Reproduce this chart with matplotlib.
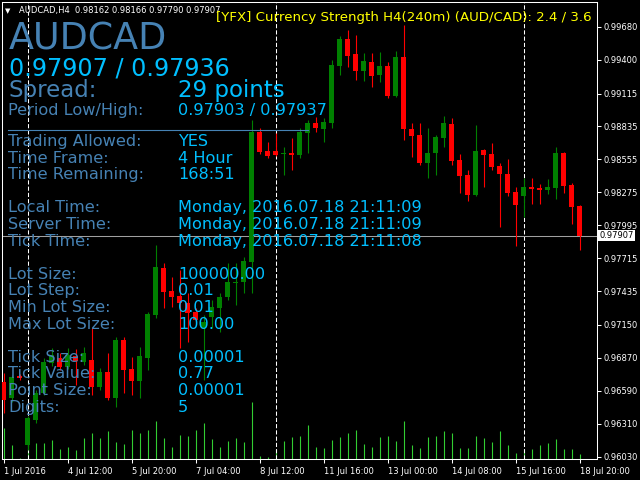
import matplotlib.pyplot as plt
from matplotlib.lines import Line2D

opens = [0.96666, 0.96530, 0.96717, 0.96131, 0.96343, 0.96572, 0.96827, 0.96870, 0.96793, 0.96887,
         0.96836, 0.96853, 0.96623, 0.96751, 0.96530, 0.97022, 0.96776, 0.96674, 0.96870, 0.97235,
         0.97633, 0.97438, 0.97396, 0.97337, 0.97260, 0.97124, 0.97218, 0.97294, 0.97387, 0.97506,
         0.97515, 0.97685, 0.98788, 0.98627, 0.98627, 0.98602, 0.98610, 0.98593, 0.98780, 0.98865,
         0.98814, 0.98865, 0.99349, 0.99578, 0.99451, 0.99306, 0.99383, 0.99272, 0.99349, 0.99094,
         0.99425, 0.98814, 0.98763, 0.98525, 0.98610, 0.98737, 0.98856, 0.98551, 0.98423, 0.98253,
         0.98635, 0.98602, 0.98500, 0.98432, 0.98279, 0.98245, 0.98321, 0.98313, 0.98296, 0.98313,
         0.98610, 0.98338, 0.98162]
highs = [0.96742, 0.96725, 0.96734, 0.96377, 0.96598, 0.96870, 0.96954, 0.96912, 0.96954, 0.96946,
         0.96963, 0.97124, 0.96785, 0.96912, 0.97048, 0.97048, 0.96878, 0.96963, 0.97260, 0.97829,
         0.97676, 0.97557, 0.97617, 0.97421, 0.97294, 0.97235, 0.97362, 0.97421, 0.97676, 0.97676,
         0.97727, 0.98890, 0.98822, 0.98703, 0.98780, 0.98661, 0.98737, 0.98822, 0.98890, 0.98916,
         0.98907, 0.99400, 0.99603, 0.99654, 0.99612, 0.99459, 0.99459, 0.99468, 0.99383, 0.99476,
         0.99697, 0.98865, 0.98865, 0.98822, 0.98763, 0.98924, 0.98907, 0.98602, 0.98466, 0.98848,
         0.98644, 0.98695, 0.98525, 0.98559, 0.98321, 0.98398, 0.98398, 0.98347, 0.98389, 0.98661,
         0.98619, 0.98355, 0.98166]
lows = [0.96403, 0.96496, 0.96683, 0.96089, 0.96318, 0.96555, 0.96802, 0.96768, 0.96776, 0.96640,
        0.96810, 0.96555, 0.96598, 0.96513, 0.96454, 0.96572, 0.96555, 0.96530, 0.96768, 0.97209,
        0.97294, 0.97303, 0.96954, 0.97005, 0.97167, 0.96683, 0.97124, 0.97090, 0.97362, 0.97320,
        0.97421, 0.97421, 0.98602, 0.98568, 0.98585, 0.98423, 0.98466, 0.98568, 0.98610, 0.98788,
        0.98703, 0.98822, 0.99272, 0.99340, 0.99230, 0.99221, 0.99170, 0.99213, 0.99077, 0.99085,
        0.98720, 0.98576, 0.98508, 0.98398, 0.98423, 0.98661, 0.98508, 0.98270, 0.98203, 0.98245,
        0.98321, 0.98466, 0.97982, 0.98245, 0.97820, 0.98067, 0.98177, 0.98177, 0.98262, 0.98219,
        0.98270, 0.98007, 0.97790]
closes = [0.96513, 0.96708, 0.96700, 0.96360, 0.96572, 0.96836, 0.96895, 0.96793, 0.96895, 0.96844,
          0.96912, 0.96623, 0.96751, 0.96530, 0.97022, 0.96768, 0.96674, 0.96887, 0.97243, 0.97642,
          0.97430, 0.97387, 0.97337, 0.97252, 0.97192, 0.97175, 0.97303, 0.97387, 0.97515, 0.97515,
          0.97693, 0.98788, 0.98619, 0.98585, 0.98593, 0.98610, 0.98593, 0.98788, 0.98865, 0.98822,
          0.98873, 0.99357, 0.99578, 0.99434, 0.99306, 0.99391, 0.99264, 0.99349, 0.99094, 0.99425,
          0.98814, 0.98754, 0.98525, 0.98610, 0.98746, 0.98865, 0.98542, 0.98415, 0.98253, 0.98627,
          0.98593, 0.98491, 0.98432, 0.98270, 0.98169, 0.98321, 0.98304, 0.98296, 0.98321, 0.98610,
          0.98330, 0.98152, 0.97907]
# volume de ticks (relativo)
volume = [31, 14, 1, 16, 16, 16, 19, 10, 12, 9,
          21, 26, 21, 28, 17, 15, 29, 26, 29, 38,
          21, 12, 24, 23, 29, 36, 20, 12, 18, 21,
          17, 57, 3, 2, 9, 18, 22, 23, 34, 12,
          11, 19, 22, 26, 29, 15, 12, 22, 23, 18,
          38, 14, 11, 22, 23, 28, 26, 11, 11, 23,
          21, 17, 28, 14, 6, 9, 10, 14, 16, 20,
          10, 10, 5]

date_ticks = [0, 8, 16, 24, 32, 40, 48, 56, 64, 72]
date_labels = ["1 Jul 2016", "4 Jul 12:00", "5 Jul 20:00", "7 Jul 04:00", "8 Jul 12:00",
               "11 Jul 16:00", "13 Jul 00:00", "14 Jul 08:00", "15 Jul 16:00", "18 Jul 20:00"]
price_ticks = [0.99680, 0.99400, 0.99115, 0.98835, 0.98555, 0.98275, 0.97995,
               0.97715, 0.97435, 0.97150, 0.96870, 0.96590, 0.96310, 0.96030]
week_starts = [3, 34, 65]

bid, ask = 0.97907, 0.97936
spread_pts = 29
period_low, period_high = 0.97903, 0.97937
strength_aud, strength_cad = 2.4, 3.6

info_labels = ["Trading Allowed:", "Time Frame:", "Time Remaining:", "",
               "Local Time:", "Server Time:", "Tick Time:", "",
               "Lot Size:", "Lot Step:", "Min Lot Size:", "Max Lot Size:", "",
               "Tick Size:", "Tick Value:", "Point Size:", "Digits:"]
info_values = ["YES", "4 Hour", "168:51", "",
               "Monday, 2016.07.18 21:11:09", "Monday, 2016.07.18 21:11:09",
               "Monday, 2016.07.18 21:11:08", "",
               "100000.00", "0.01", "0.01", "100.00", "",
               "0.00001", "0.77", "0.00001", "5"]

# cores
COR_ROTULO = '#4682B4'
COR_VALOR = '#00BFFF'
COR_ALTA = '#008000'
COR_BAIXA = '#FF0000'
COR_VOL = '#32CD32'

W, H = 640, 480


def fx(px):
    return px / W


def fy(py):
    return 1 - py / H


fig = plt.figure(figsize=(6.4, 4.8), dpi=100, facecolor='black')
rect = [fx(2), fy(459), 595 / W, 457 / H]
xlim = (-0.19, -0.19 + 595 / 8)

# volumes atras das velas
ax_v = fig.add_axes(rect)
ax_v.set_xlim(xlim)
ax_v.set_ylim(0, max(volume) * 8.0)
ax_v.vlines(range(len(volume)), 0, volume, color=COR_VOL, linewidth=0.8)
ax_v.axis('off')

ax = fig.add_axes(rect)
ax.set_facecolor('none')
ax.set_xlim(xlim)
ax.set_ylim(0.96012, 0.99892)

x = list(range(len(opens)))
cores = [COR_ALTA if c >= o else COR_BAIXA for o, c in zip(opens, closes)]
ax.vlines(x, lows, highs, colors=cores, linewidth=0.8, zorder=2)
alturas = [max(abs(c - o), 0.00009) for o, c in zip(opens, closes)]
bases = [min(o, c) for o, c in zip(opens, closes)]
ax.bar(x, alturas, bottom=bases, width=0.62, color=cores, linewidth=0, zorder=3)

# separadores de semana
for w in week_starts:
    ax.axvline(w, color='white', linewidth=0.75, dashes=(4, 2), zorder=1)

# linha do bid
ax.axhline(bid, color='#A0A0A0', linewidth=0.75, zorder=1)

for s in ax.spines.values():
    s.set_color('white')
    s.set_linewidth(0.75)

ax.set_xticks(date_ticks)
ax.set_xticklabels(date_labels, ha='left')
ax.tick_params(axis='x', direction='out', length=3, width=0.75, color='white',
               labelcolor='white', labelsize=6, pad=3)
ax.yaxis.tick_right()
ax.set_yticks(price_ticks)
ax.set_yticklabels([f"{p:.5f}" for p in price_ticks])
ax.tick_params(axis='y', direction='out', length=3, width=0.75, color='white',
               labelcolor='white', labelsize=6, pad=1.5)

ax.text(1.004, bid, f"{bid:.5f}", transform=ax.get_yaxis_transform(), fontsize=6,
        color='black', va='center', ha='left', clip_on=False, zorder=10,
        bbox=dict(boxstyle='square,pad=0.12', fc='white', ec='none'))

# cabecalho do grafico
fig.text(fx(5), fy(13), '\u25bc', fontsize=5, color='white', va='baseline')
fig.text(fx(19), fy(13),
         f"AUDCAD,H4  {opens[-1]:.5f} {highs[-1]:.5f} {lows[-1]:.5f} {closes[-1]:.5f}",
         fontsize=6, color='white', va='baseline')
fig.text(fx(592), fy(21),
         f"[YFX] Currency Strength H4(240m) (AUD/CAD): {strength_aud} / {strength_cad}",
         fontsize=9.65, color='yellow', va='baseline', ha='right')

# painel de informacoes
fig.text(fx(9), fy(50), "AUDCAD", fontsize=26.3, color=COR_ROTULO, va='baseline')
fig.text(fx(9), fy(75), f"{bid:.5f} / {ask:.5f}", fontsize=17.2, color=COR_VALOR, va='baseline')
fig.text(fx(8), fy(97), "Spread:", fontsize=16.5, color=COR_ROTULO, va='baseline')
fig.text(fx(178), fy(97), f"{spread_pts} points", fontsize=16.5, color=COR_VALOR, va='baseline')
fig.text(fx(8), fy(115), "Period Low/High:", fontsize=11.6, color=COR_ROTULO, va='baseline')
fig.text(fx(178), fy(115), f"{period_low:.5f} / {period_high:.5f}", fontsize=11.6,
         color=COR_VALOR, va='baseline')
fig.add_artist(Line2D([fx(8), fx(308)], [fy(130), fy(130)], transform=fig.transFigure,
                      color=COR_ROTULO, linewidth=0.8))

for k, (lbl, val) in enumerate(zip(info_labels, info_values)):
    base = 146 + 16.6 * k
    fig.text(fx(8), fy(base), lbl, fontsize=11.6, color=COR_ROTULO, va='baseline')
    fig.text(fx(178), fy(base), val, fontsize=11.6, color=COR_VALOR, va='baseline')

fig.savefig('out.png', dpi=100, facecolor='black')
